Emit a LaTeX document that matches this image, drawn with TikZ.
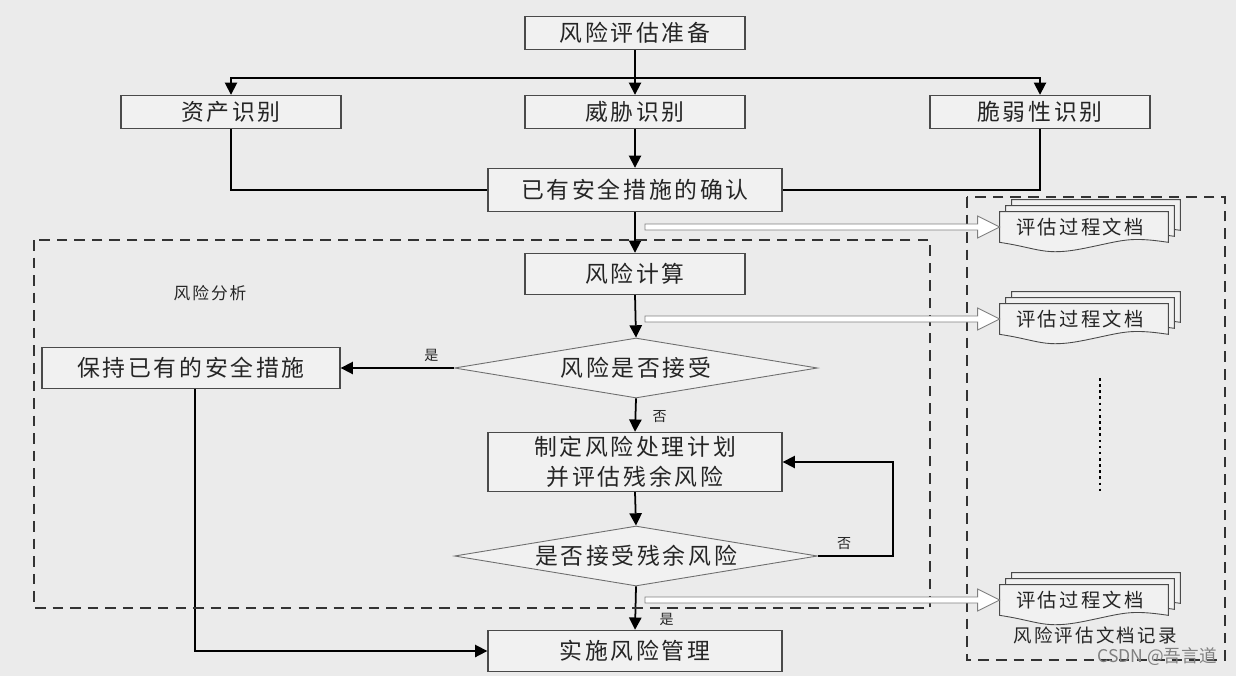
\documentclass[tikz,border=0pt]{standalone}
\usepackage{fontspec}
\setmainfont{Noto Sans CJK SC}[LetterSpace=12]
\newfontfamily\plainf{Noto Sans CJK SC}
\usetikzlibrary{arrows.meta,shapes.geometric,calc}
\definecolor{bg}{HTML}{EBEBEB}
\definecolor{bx}{HTML}{F1F1F1}
\definecolor{ln}{HTML}{4A4A4A}
\definecolor{tx}{HTML}{252525}
\begin{document}
\begin{tikzpicture}[x=0.02cm,y=-0.02cm,
  box/.style={draw=ln,fill=bx,line width=0.8pt,minimum width=4.4cm,minimum height=0.66cm,inner sep=1pt,text=tx,font=\fontsize{13}{15}\selectfont,align=center},
  dia/.style={diamond,aspect=6,draw=ln!80,fill=bx,line width=0.5pt,minimum width=7.26cm,minimum height=1.2cm,inner sep=0pt,text=tx,font=\fontsize{13}{15}\selectfont},
  arr/.style={draw=black,line width=1pt,-{Triangle[length=7pt,width=7pt]}},
  con/.style={draw=black,line width=0.9pt},
  lab/.style={font=\fontsize{8}{9}\selectfont,text=tx},
  dsh/.style={draw=black!80,line width=0.9pt,dash pattern=on 6pt off 4pt},
  doc/.style={draw=none,minimum width=3.36cm,minimum height=0.6cm,inner sep=1pt,text=tx,font=\fontsize{11}{12}\selectfont},
  hol/.style={draw=ln!70,fill=white,line width=0.5pt}]
\fill[bg] (0,0) rectangle (1236,676);
\useasboundingbox (0,0) rectangle (1236,676);

\node[box] (prep) at (635,33) {风险评估准备};
\node[box] (asset) at (231,112) {资产识别};
\node[box] (threat) at (635,112) {威胁识别};
\node[box] (vuln) at (1040,112) {脆弱性识别};
\node[box,minimum width=5.88cm,minimum height=0.86cm] (conf) at (635,190) {已有安全措施的确认};
\node[box,minimum height=0.82cm] (calc) at (635,274) {风险计算};
\node[dia] (d1) at (636,368) {风险是否接受};
\node[box,minimum width=5.96cm,minimum height=0.82cm] (keep) at (191,368) {保持已有的安全措施};
\node[box,minimum width=5.88cm,minimum height=1.18cm,font=\fontsize{13}{17}\selectfont] (plan) at (635,462) {制定风险处理计划\\并评估残余风险};
\node[dia] (d2) at (636,556) {是否接受残余风险};
\node[box,minimum width=5.88cm,minimum height=0.82cm] (impl) at (635,651) {实施风险管理};

\coordinate (j) at (635,78);
\draw[con] (prep.south) -- (j);
\draw[arr] (j) -| (asset.north);
\draw[arr] (j) -| (vuln.north);
\draw[arr] (j) -- (threat.north);
\draw[arr] (threat.south) -- (conf.north);
\draw[con] (asset.south) |- (conf.west);
\draw[con] (vuln.south) |- (conf.east);
\draw[arr] (conf.south) -- (calc.north);
\draw[arr] (calc.south) -- (d1.north);
\draw[arr] (d1.west) -- node[lab,above,pos=0.2] {是} (keep.east);
\draw[arr] (d1.south) -- node[lab,right=6pt,pos=0.55] {否} (plan.north);
\draw[arr] (plan.south) -- (d2.north);
\coordinate (r) at (893,556);
\draw[arr] (d2.east) -- node[lab,above,pos=0.35] {否} (r) |- (plan.east);
\draw[arr] (d2.south) -- node[lab,right=10pt,pos=0.75] {是} (impl.north);
\draw[arr] ($(keep.south)+(4,0)$) |- (impl.west);

\draw[dsh] (34,240) rectangle (930,608);
\node[lab,font=\fontsize{9.5}{11}\selectfont] (ra) at (210,293) {风险分析};
\draw[dsh] (967,197) rectangle (1225,660);
\node[lab,font=\fontsize{10.5}{12}\selectfont] (rec) at (1095,635) {风险评估文档记录};

\foreach \n/\y in {a/227,b/319,c/600}{
  \node[doc] (doc\n) at (1084,\y) {};
  \foreach \o in {12,6,0}{
    \draw[draw=ln,fill=bx,line width=0.5pt] ($(doc\n.north west)+(\o,-\o)$) -- ($(doc\n.north east)+(\o,-\o)$) -- ($(doc\n.south east)+(\o,-\o)$)
      .. controls +(-40,-6) and +(40,-8) .. ($(doc\n.south)+(\o,6-\o)$)
      .. controls +(-40,8) and +(40,6) .. ($(doc\n.south west)+(\o,-\o)$) -- cycle;
  }
  \node[doc] at ($(doc\n)+(-4,0)$) {评估过程文档};
  \coordinate (s\n) at (645,\y);
  \draw[hol] ($(s\n)+(0,-3)$) -- ($(doc\n.west)+(-22,-3)$) -- ($(doc\n.west)+(-22,-11)$) -- (doc\n.west) -- ($(doc\n.west)+(-22,11)$) -- ($(doc\n.west)+(-22,3)$) -- ($(s\n)+(0,3)$) -- cycle;
}
\coordinate (dt) at (1100,378);
\coordinate (db) at (1100,492);
\draw[line width=1.6pt,dash pattern=on 1.5pt off 2pt] (dt) -- (db);
\node[text=gray,font=\plainf\fontsize{10}{12}\selectfont] (wm) at (1157,657) {CSDN @吾言道};
\end{tikzpicture}
\end{document}
